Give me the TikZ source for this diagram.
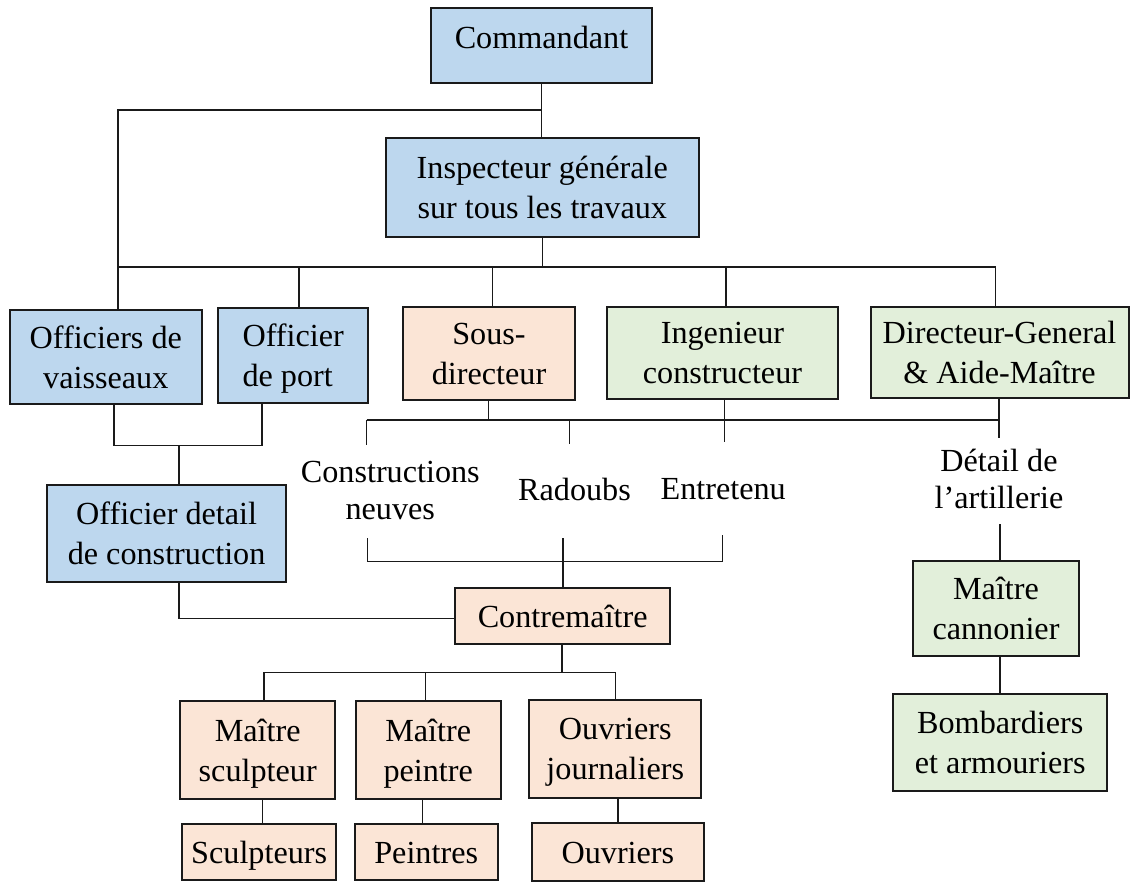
\documentclass[tikz,border=0pt]{standalone}
\usepackage{fontspec}
\setmainfont{Liberation Serif}
\definecolor{boxblue}{HTML}{BDD7EE}
\definecolor{boxpeach}{HTML}{FBE5D6}
\definecolor{boxgreen}{HTML}{E2EFDA}
\definecolor{edge}{HTML}{1A1A1A}
\begin{document}
\begin{tikzpicture}[x=0.5pt,y=-0.5pt,
  box/.style={draw=edge, line width=1pt, inner sep=0pt, align=center,
    text depth=0pt, font=\fontsize{16.1}{20}\selectfont},
  size/.style 2 args={minimum width=#1*0.5pt, minimum height=#2*0.5pt},
  bluebox/.style={box, fill=boxblue},
  peachbox/.style={box, fill=boxpeach},
  greenbox/.style={box, fill=boxgreen},
  free/.style={inner sep=0pt, align=center, font=\fontsize{16.1}{18.4}\selectfont},
  conn/.style={draw=edge, line width=0.75pt},
  bus/.style={draw=edge, line width=1.4pt},
  midbus/.style={draw=edge, line width=1pt}]
\useasboundingbox (0,0) rectangle (1130,882);

% boxes
\node[bluebox, size={221.6}{74.4}, text height=11pt, text depth=8pt] (cmd) at (541.5,45.5) {Commandant};
\node[bluebox, size={313.4}{99.6}] (insp) at (542.3,187.5) {Inspecteur générale\\sur tous les travaux};
\node[bluebox, size={192.1}{94.3}] (ofv) at (105.8,357.2) {Officiers de\\vaisseaux};
\node[bluebox, size={150.3}{94.4}, align=left] (ofp) at (293.2,355.5) {Officier\\de port};
\node[peachbox, size={172}{93.6}] (sous) at (489,353.5) {Sous-\\directeur};
\node[greenbox, size={231.4}{92}] (ing) at (722.5,353.3) {Ingenieur\\constructeur};
\node[greenbox, size={258}{91.3}] (dir) at (999.5,352.7) {Directeur-General\\\& Aide-Maître};
\node[bluebox, size={239.7}{96.7}] (det) at (166.6,533.3) {Officier detail\\de construction};
\node[greenbox, size={166.6}{95}] (mc) at (996,608.2) {Maître\\cannonier};
\node[greenbox, size={214}{96.7}] (bomb) at (1000.3,742.3) {Bombardiers\\et armouriers};
\node[peachbox, size={215.1}{56}, text height=11pt] (ctm) at (562.7,616.3) {Contremaître};
\node[peachbox, size={154.6}{98.3}] (msc) at (257.7,749.8) {Maître\\sculpteur};
\node[peachbox, size={145.1}{98.3}] (mpe) at (428.2,749.8) {Maître\\peintre};
\node[peachbox, size={172}{98.3}] (ouj) at (615.3,749.2) {Ouvriers\\journaliers};
\node[peachbox, size={153.7}{56.5}, text height=11pt] (scu) at (259.2,852.2) {Sculpteurs};
\node[peachbox, size={143}{56.5}, text height=11pt] (pei) at (426.2,852.2) {Peintres};
\node[peachbox, size={172.3}{57.4}, text height=11pt] (ouv) at (617.9,852) {Ouvriers};

% free labels
\node[free] (cn) at (390.3,490.4) {Constructions\\neuves};
\node[free] (rad) at (574.5,489) {Radoubs};
\node[free] (ent) at (723.2,489) {Entretenu};
\node[free] (art) at (999,479) {Détail de\\l’artillerie};

% junction points
\coordinate (jA) at (118,110);
\coordinate (busBl) at (118,267);
\coordinate (busBr) at (995.6,267);
\coordinate (dOfp) at (299,267);
\coordinate (dSous) at (492.6,267);
\coordinate (dIng) at (726,267);
\coordinate (kL) at (114,445.3);
\coordinate (kR) at (262,445.3);
\coordinate (kM) at (179,445.3);
\coordinate (kD) at (179,618.3);
\coordinate (cL) at (366.5,420);
\coordinate (cLe) at (366.5,445);
\coordinate (cS) at (488.3,420);
\coordinate (cRad) at (569.3,420);
\coordinate (cRade) at (569.3,444);
\coordinate (cI) at (724.3,420);
\coordinate (cIe) at (724.3,441.7);
\coordinate (cR) at (999.2,420);
\coordinate (cRe) at (999.2,438.3);
\coordinate (eLt) at (367.6,538);
\coordinate (eL) at (367.6,561.7);
\coordinate (eRt) at (722.5,535);
\coordinate (eR) at (722.5,561.7);
\coordinate (eMt) at (563.2,538);
\coordinate (aT) at (1000,524.3);
\coordinate (fM) at (562,672.7);
\coordinate (fL) at (263.8,672.7);
\coordinate (fC) at (425.7,672.7);
\coordinate (fR) at (615.5,672.7);
\coordinate (gS) at (262.6,810);
\coordinate (gP) at (422.6,810);
\coordinate (gO) at (617.8,810);

% top links
\draw[conn] (cmd.south) -- (cmd.south |- insp.north);
\draw[conn] (cmd.south |- jA) -- (jA) -- (jA |- ofv.north);
\draw[bus] (busBl) -- (busBr);
\draw[conn] (insp.south) -- (insp.south |- busBl);
\draw[conn] (dOfp) -- (dOfp |- ofp.north);
\draw[conn] (dSous) -- (dSous |- sous.north);
\draw[conn] (dIng) -- (dIng |- ing.north);
\draw[conn] (busBr) -- (busBr |- dir.north);

% officers to construction detail
\draw[conn] (kL |- ofv.south) -- (kL) -- (kR) -- (kR |- ofp.south);
\draw[conn] (kM) -- (kM |- det.north);
\draw[conn] (kD |- det.south) -- (kD) -- (kD -| ctm.west);

% works branch
\draw[midbus] (cL) -- (cR);
\draw[conn] (cS |- sous.south) -- (cS);
\draw[conn] (cI |- ing.south) -- (cIe);
\draw[conn] (cR |- dir.south) -- (cRe);
\draw[conn] (cL) -- (cLe);
\draw[conn] (cRad) -- (cRade);
\draw[conn] (eLt) -- (eL) -- (eR) -- (eRt);
\draw[conn] (eMt) -- (eMt |- ctm.north);

% artillery branch
\draw[conn] (aT) -- (aT |- mc.north);
\draw[conn] (aT |- mc.south) -- (aT |- bomb.north);

% workshop branch
\draw[conn] (fM |- ctm.south) -- (fM);
\draw[conn] (fL |- msc.north) -- (fL) -- (fR) -- (fR |- ouj.north);
\draw[conn] (fC) -- (fC |- mpe.north);
\draw[conn] (gS |- msc.south) -- (gS |- scu.north);
\draw[conn] (gP |- mpe.south) -- (gP |- pei.north);
\draw[conn] (gO |- ouj.south) -- (gO |- ouv.north);
\end{tikzpicture}
\end{document}
